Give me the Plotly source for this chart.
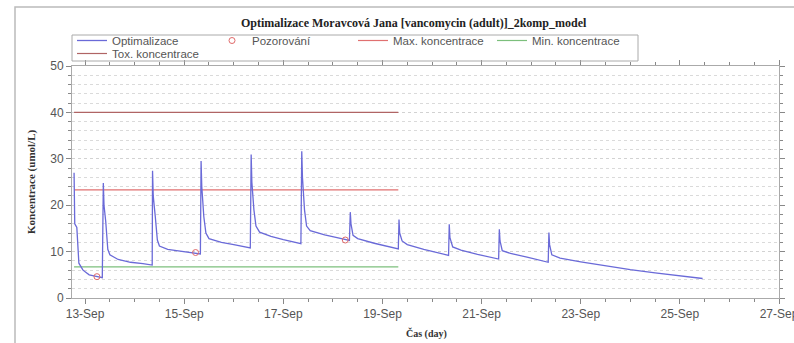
import plotly.graph_objects as go

# ---------------- data ----------------
opt_time = [
    "2023-09-12 18:40", "2023-09-12 18:50", "2023-09-12 19:00", "2023-09-12 20:00", "2023-09-12 21:00",
    "2023-09-12 23:00", "2023-09-13 02:00", "2023-09-13 08:20",
    "2023-09-13 08:50", "2023-09-13 09:10", "2023-09-13 10:00", "2023-09-13 11:00", "2023-09-13 12:00",
    "2023-09-13 16:00", "2023-09-13 22:00", "2023-09-14 04:00", "2023-09-14 08:30",
    "2023-09-14 08:40", "2023-09-14 09:00", "2023-09-14 10:00", "2023-09-14 11:00", "2023-09-14 12:00",
    "2023-09-14 16:00", "2023-09-14 22:00", "2023-09-15 04:00", "2023-09-15 07:50",
    "2023-09-15 08:10", "2023-09-15 08:30", "2023-09-15 09:30", "2023-09-15 10:30", "2023-09-15 12:00",
    "2023-09-15 18:00", "2023-09-16 00:00", "2023-09-16 06:00", "2023-09-16 08:00",
    "2023-09-16 08:25", "2023-09-16 08:45", "2023-09-16 09:45", "2023-09-16 10:45", "2023-09-16 12:30",
    "2023-09-16 18:00", "2023-09-17 00:00", "2023-09-17 06:00", "2023-09-17 08:30",
    "2023-09-17 08:55", "2023-09-17 09:15", "2023-09-17 10:15", "2023-09-17 11:15", "2023-09-17 13:00",
    "2023-09-17 20:00", "2023-09-18 02:00", "2023-09-18 08:00",
    "2023-09-18 08:25", "2023-09-18 08:45", "2023-09-18 09:45", "2023-09-18 12:00",
    "2023-09-18 20:00", "2023-09-19 04:00", "2023-09-19 07:40",
    "2023-09-19 08:00", "2023-09-19 08:20", "2023-09-19 09:30", "2023-09-19 12:00",
    "2023-09-19 20:00", "2023-09-20 04:00", "2023-09-20 08:00",
    "2023-09-20 08:20", "2023-09-20 08:40", "2023-09-20 10:00", "2023-09-20 14:00",
    "2023-09-20 22:00", "2023-09-21 06:00", "2023-09-21 08:15",
    "2023-09-21 08:35", "2023-09-21 08:55", "2023-09-21 10:00", "2023-09-21 14:00",
    "2023-09-21 22:00", "2023-09-22 06:00", "2023-09-22 08:15",
    "2023-09-22 08:35", "2023-09-22 08:55", "2023-09-22 10:00", "2023-09-22 14:00",
    "2023-09-23 00:00", "2023-09-23 12:00", "2023-09-24 00:00", "2023-09-24 12:00",
    "2023-09-25 00:00", "2023-09-25 11:00",
]
opt_conc = [
    27.0, 23.5, 16.0, 15.2, 7.5,
    6.0, 5.0, 4.4,
    24.8, 20.0, 16.5, 10.5, 9.3,
    8.3, 7.7, 7.4, 7.1,
    27.4, 22.0, 17.5, 12.5, 11.2,
    10.5, 10.1, 9.8, 9.5,
    29.5, 24.0, 17.5, 14.0, 12.8,
    12.0, 11.5, 11.0, 10.8,
    30.9, 25.0, 19.0, 15.5, 14.2,
    13.3, 12.6, 12.0, 11.7,
    31.6, 26.0, 19.0, 15.5, 14.5,
    13.6, 13.0, 12.4,
    18.5, 16.0, 13.5, 12.8,
    11.8, 11.0, 10.6,
    16.9, 14.0, 12.3, 11.5,
    10.5, 9.6, 9.2,
    15.9, 13.0, 11.0, 10.3,
    9.4, 8.7, 8.4,
    14.8, 12.3, 10.2, 9.6,
    8.8, 8.0, 7.7,
    14.1, 11.5, 9.3, 8.6,
    7.8, 6.9, 6.1, 5.4,
    4.8, 4.2,
]

obs_time = ["2023-09-13 05:45", "2023-09-15 05:30", "2023-09-18 06:00"]
obs_conc = [4.6, 9.8, 12.5]

limit_time = ["2023-09-12 18:40", "2023-09-19 07:40"]
max_conc = [23.3, 23.3]
min_conc = [6.7, 6.7]
tox_conc = [40.0, 40.0]

title_text = "Optimalizace Moravcová Jana [vancomycin (adult)]_2komp_model"
x_title = "Čas (day)"
y_title = "Koncentrace (umol/L)"

# ---------------- geometry helpers ----------------
W, H = 794, 343
L, R, T, B = 72, 15, 66, 45
PW, PH = W - L - R, H - T - B


def px(xp):
    return (xp - L) / PW


def py(yp):
    return (H - B - yp) / PH


SANS = "Liberation Sans, Arial, sans-serif"
SERIF = "Liberation Serif, Times New Roman, serif"

fig = go.Figure()

fig.add_trace(go.Scatter(x=limit_time, y=tox_conc, mode="lines", name="Tox. koncentrace",
                         line=dict(color="#b06464", width=1.2), legend="legend5"))
fig.add_trace(go.Scatter(x=limit_time, y=max_conc, mode="lines", name="Max. koncentrace",
                         line=dict(color="#e07070", width=1.2), legend="legend3"))
fig.add_trace(go.Scatter(x=limit_time, y=min_conc, mode="lines", name="Min. koncentrace",
                         line=dict(color="#7cbf7c", width=1.2), legend="legend4"))
fig.add_trace(go.Scatter(x=opt_time, y=opt_conc, mode="lines", name="Optimalizace",
                         line=dict(color="#6a6ad8", width=1.3), legend="legend"))
fig.add_trace(go.Scatter(x=obs_time, y=obs_conc, mode="markers", name="Pozorování",
                         marker=dict(symbol="circle-open", color="#e06a6a", size=6, line=dict(width=1)),
                         legend="legend2"))


def leg(xstart, ytop):
    return dict(orientation="h", xanchor="left", yanchor="top",
                x=px(xstart), y=py(ytop),
                font=dict(family=SANS, size=11.5, color="#555"),
                bgcolor="rgba(0,0,0,0)", borderwidth=0, itemwidth=30)


ROW1, ROW2 = 26, 39

fig.update_layout(
    width=W, height=H,
    margin=dict(l=L, r=R, t=T, b=B, autoexpand=False),
    paper_bgcolor="white", plot_bgcolor="white",
    showlegend=True,
    legend=leg(72, ROW1),
    legend2=leg(212, ROW1),
    legend3=leg(353, ROW1),
    legend4=leg(492, ROW1),
    legend5=leg(72, ROW2),
    xaxis=dict(
        type="date",
        range=["2023-09-12 17:40", "2023-09-27 00:00"],
        tick0="2023-09-13", dtick=2 * 86400000, tickformat="%d-%b",
        ticks="outside", ticklen=5, tickcolor="#888",
        tickfont=dict(family=SANS, size=12, color="#555"),
        ticklabeloverflow="allow",
        showgrid=False, zeroline=False,
        showline=True, linecolor="#aaa", linewidth=1, mirror="allticks",
        minor=dict(dtick=43200000, ticks="outside", ticklen=3, tickcolor="#888", showgrid=False),
    ),
    yaxis=dict(
        range=[0, 50], dtick=10, tick0=0,
        ticks="outside", ticklen=5, tickcolor="#888",
        tickfont=dict(family=SANS, size=12, color="#555"),
        showgrid=True, gridcolor="#d2d2d2", griddash="dot", gridwidth=1,
        zeroline=False,
        showline=True, linecolor="#aaa", linewidth=1, mirror="allticks",
        minor=dict(dtick=2, ticks="outside", ticklen=3, tickcolor="#888",
                   showgrid=True, gridcolor="#dadada", griddash="dot", gridwidth=1),
    ),
    annotations=[
        dict(text="<b>" + title_text + "</b>", xref="paper", yref="paper", x=px(414), y=py(23),
             xanchor="center", yanchor="middle", showarrow=False,
             font=dict(family=SERIF, size=12, color="#222")),
        dict(text="<b>" + x_title + "</b>", xref="paper", yref="paper", x=px(426), y=py(333),
             xanchor="center", yanchor="middle", showarrow=False,
             font=dict(family=SERIF, size=10, color="#333")),
        dict(text="<b>" + y_title + "</b>", xref="paper", yref="paper", x=px(31), y=0.5,
             xanchor="center", yanchor="middle", showarrow=False, textangle=-90,
             font=dict(family=SERIF, size=11, color="#333")),
    ],
    shapes=[
        dict(type="rect", xref="paper", yref="paper", x0=px(15), x1=px(800), y0=py(350), y1=py(7),
             line=dict(color="#bbb", width=1.5), layer="below"),
        dict(type="rect", xref="paper", yref="paper", x0=px(72), x1=px(638), y0=py(61), y1=py(35),
             line=dict(color="#aaa", width=1), layer="above"),
    ],
)

fig.write_html(
    "out.html",
    config={"displayModeBar": False},
    post_script="document.body.style.margin='0px';document.body.style.overflow='hidden';",
)
